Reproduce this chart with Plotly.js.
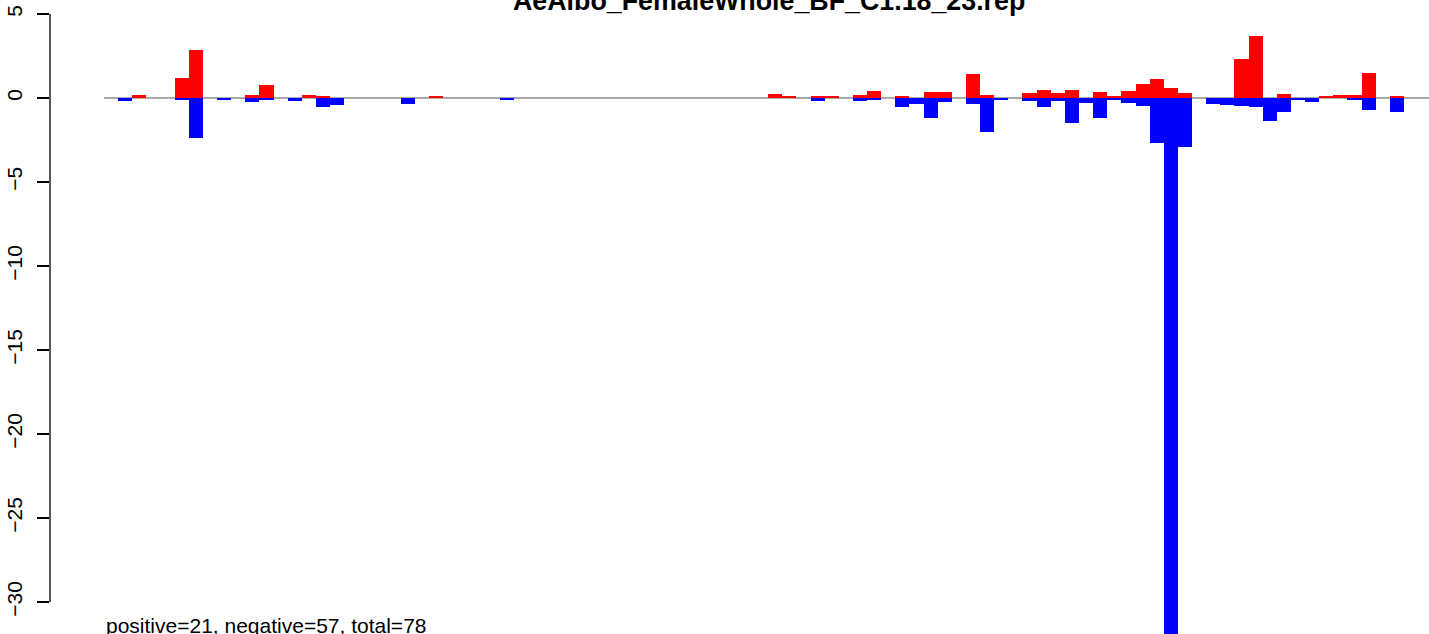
<!DOCTYPE html>
<html>
<head>
<meta charset="utf-8">
<script src="https://cdn.plot.ly/plotly-3.0.1.min.js"></script>
<style>html,body{margin:0;padding:0;background:#fff;overflow:hidden}#chart{width:1429px;height:634px}</style>
</head>
<body>
<div id="chart"></div>
<script>
// Bar positions (0-based index along the x axis)
const positions = Array.from({length: 94}, (_, i) => i);

// Positive (red) values by position
const positiveValues = [
  0, 0, 0.17, 0, 0, 1.18, 2.86, 0, 0, 0,
  0.17, 0.77, 0, 0, 0.17, 0.10, 0, 0, 0, 0,
  0, 0, 0, 0.10, 0, 0, 0, 0, 0, 0,
  0, 0, 0, 0, 0, 0, 0, 0, 0, 0,
  0, 0, 0, 0, 0, 0, 0, 0.24, 0.10, 0,
  0.10, 0.10, 0, 0.17, 0.42, 0, 0.10, 0, 0.36, 0.36,
  0, 1.43, 0.17, 0, 0, 0.28, 0.48, 0.28, 0.48, 0,
  0.36, 0.10, 0.42, 0.83, 1.13, 0.60, 0.28, 0, 0, 0,
  2.32, 3.69, 0, 0.24, 0, 0, 0.10, 0.17, 0.17, 1.49,
  0, 0.10, 0, 0
];

// Negative (blue) values by position
const negativeValues = [
  0, -0.18, 0, 0, 0, -0.10, -2.36, 0, -0.12, 0,
  -0.24, -0.12, 0, -0.18, 0, -0.54, -0.42, 0, 0, 0,
  0, -0.34, 0, 0, 0, 0, 0, 0, -0.12, 0,
  0, 0, 0, 0, 0, 0, 0, 0, 0, 0,
  0, 0, 0, 0, 0, 0, 0, 0, 0, 0,
  -0.18, 0, 0, -0.18, -0.12, 0, -0.54, -0.36, -1.17, -0.24,
  0, -0.36, -2.02, -0.12, 0, -0.18, -0.54, -0.18, -1.49, -0.30,
  -1.19, -0.12, -0.30, -0.48, -2.68, -34.0, -2.92, 0, -0.36, -0.42,
  -0.48, -0.54, -1.37, -0.83, -0.12, -0.24, 0, 0, -0.12, -0.71,
  0, -0.83, 0, 0
];

// Y axis tick values
const yTicks = [5, 0, -5, -10, -15, -20, -25, -30];

const chartTitle = "AeAlbo_FemaleWhole_BF_C1.18_23.rep";
const summaryText = "positive=21, negative=57, total=78";

const FONT = "Liberation Sans, Arial, Helvetica, sans-serif";

const traces = [
  {type: 'bar', x: positions, y: positiveValues, marker: {color: '#FF0000', line: {width: 0}}, hoverinfo: 'skip', showlegend: false},
  {type: 'bar', x: positions, y: negativeValues, marker: {color: '#0000FF', line: {width: 0}}, hoverinfo: 'skip', showlegend: false}
];

const layout = {
  width: 1429, height: 634,
  margin: {l: 50, r: 0, t: 0, b: 0, pad: 0},
  paper_bgcolor: '#ffffff', plot_bgcolor: '#ffffff',
  barmode: 'relative', bargap: 0,
  showlegend: false,
  font: {family: FONT, color: '#000000', size: 21},
  xaxis: {range: [-4.322, 93.27], showgrid: false, zeroline: false, showticklabels: false, ticks: '', showline: false, fixedrange: true},
  yaxis: {range: [-31.905, 5.833], tickvals: yTicks, ticks: 'outside', ticklen: 12, tickwidth: 1.3, tickcolor: '#000',
          tickangle: -90, tickfont: {family: FONT, size: 21, color: '#000'}, ticklabelstandoff: 7,
          showgrid: false, zeroline: false, showline: false, fixedrange: true},
  shapes: [
    {type: 'line', xref: 'x', yref: 'y', x0: -0.5, x1: 200, y0: 0, y1: 0, line: {color: '#A9A9A9', width: 2}, layer: 'below'},
    {type: 'line', xref: 'paper', yref: 'y', x0: 0, x1: 0, y0: yTicks[0], y1: yTicks[yTicks.length - 1], line: {color: '#000', width: 1.3}, layer: 'above'}
  ],
  annotations: [
    {text: '<b>' + chartTitle + '</b>', xref: 'x', yref: 'paper', x: 46.55, y: 1, xanchor: 'center', yanchor: 'bottom', yshift: -18, showarrow: false, font: {family: FONT, size: 26.8, color: '#000'}},
    {text: summaryText, xref: 'x', yref: 'paper', x: -0.5, y: 0, xanchor: 'left', yanchor: 'bottom', yshift: -5, showarrow: false, font: {family: FONT, size: 21, color: '#000'}}
  ]
};

Plotly.newPlot('chart', traces, layout, {displayModeBar: false, staticPlot: true});
</script>
</body>
</html>
